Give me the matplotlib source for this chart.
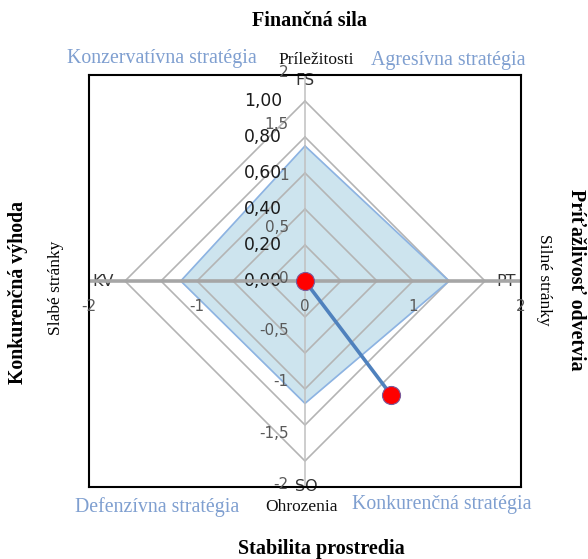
import numpy as np
import matplotlib
matplotlib.use("Agg")
import matplotlib.pyplot as plt

# radar part (SPACE factors), Excel-like radar 0..1
categories = ["FS", "PT", "SO", "KV"]
radar_values = [0.75, 0.80, 0.68, 0.69]
radar_ticks = [0.0, 0.2, 0.4, 0.6, 0.8, 1.0]
radar_ticklabels = ["0,00", "0,20", "0,40", "0,60", "0,80", "1,00"]

# scatter part (direction vector)
vec_x = [0, 0.80]
vec_y = [0, -1.11]
x_ticks = [-2, -1, 0, 1, 2]
x_ticklabels = ["-2", "-1", "0", "1", "2"]
y_ticks = [-2, -1.5, -1, -0.5, 0, 0.5, 1, 1.5, 2]
y_ticklabels = ["-2", "-1,5", "-1", "-0,5", "0", "0,5", "1", "1,5", "2"]

W, H = 588, 559
def fx(px):
  return px/W
def fy(py):
  return 1-py/H

serif = "Liberation Serif"
qcol = "#7f9fd0"

fig = plt.figure(figsize=(W/100, H/100), dpi=100)
box = [89/W, 1-487/H, 432/W, 412/H]

# radar axes, behind
rax = fig.add_axes(box)
rax.set_xlim(-216/180, 216/180)
rax.set_ylim(-206/180, 206/180)
rax.axis("off")
rax.set_zorder(0)

angles = np.deg2rad([90, 0, -90, 180])
ang_c = np.append(angles, angles[0])
vals = np.append(radar_values, radar_values[0])
rax.fill(vals*np.cos(ang_c), vals*np.sin(ang_c), color="#cde4ee", zorder=1)
rax.plot(vals*np.cos(ang_c), vals*np.sin(ang_c), color="#8db3e2", lw=1.2, zorder=3)
for r in radar_ticks[1:]:
  rax.plot(r*np.cos(ang_c), r*np.sin(ang_c), color="#b4b4b4", lw=1.2, zorder=2)
for r, lab in zip(radar_ticks, radar_ticklabels):
  rax.text(-0.128, r, lab, ha="right", va="center", fontsize=12.3,
           family="DejaVu Sans", color="#1a1a1a", zorder=5)
# category labels: FS top, PT right, SO bottom, KV left
lab_pos = [(0, 1.115), (1.115, 0), (0.01, -1.14), (-1.12, 0)]
for (px, py), lab in zip(lab_pos, categories):
  rax.text(px, py, lab, ha="center", va="center", fontsize=11.5,
           family="DejaVu Sans", color="#333333", zorder=5)

# scatter axes on top
ax = fig.add_axes(box)
ax.set_zorder(1)
ax.patch.set_visible(False)
ax.set_xlim(-2, 2)
ax.set_ylim(-2, 2)
ax.set_xticks([])
ax.set_yticks([])
for s in ax.spines.values():
  s.set_color("black")
  s.set_linewidth(1.5)
ax.axhline(0, color="#a6a6a6", lw=2.6, zorder=2)
ax.axvline(0, color="#c0c0c0", lw=1.1, zorder=2)
for v, lab in zip(x_ticks, x_ticklabels):
  ax.text(v, -0.245, lab, ha="center", va="center", fontsize=11,
          family="DejaVu Sans", color="#595959", clip_on=False)
for v, lab in zip(y_ticks, y_ticklabels):
  ax.text(-0.15, v+0.02, lab, ha="right", va="center", fontsize=11,
          family="DejaVu Sans", color="#595959", clip_on=False)
ax.plot(vec_x, vec_y, color="#4f81bd", lw=2.6, zorder=4,
        marker="o", markersize=13, markerfacecolor="#ff0000",
        markeredgecolor="#7a5a9a", markeredgewidth=0.8)

# surrounding texts
fig.text(fx(310), fy(21), "Finančná sila", ha="center", va="center",
         fontsize=14.5, family=serif, fontweight="bold")
fig.text(fx(321), fy(549), "Stabilita prostredia", ha="center", va="center",
         fontsize=14.5, family=serif, fontweight="bold")
fig.text(fx(18), fy(292), "Konkurenčná výhoda", ha="center", va="center",
         fontsize=14.3, family=serif, fontweight="bold", rotation=90)
fig.text(fx(576), fy(280), "Príťažlivosť odvetvia", ha="center", va="center",
         fontsize=14.3, family=serif, fontweight="bold", rotation=-90)
fig.text(fx(56), fy(288), "Slabé stránky", ha="center", va="center",
         fontsize=12.5, family=serif, rotation=90)
fig.text(fx(544), fy(280), "Silné stránky", ha="center", va="center",
         fontsize=12.5, family=serif, rotation=-90)

fig.text(fx(162), fy(59), "Konzervatívna stratégia", ha="center", va="center",
         fontsize=14.3, family=serif, color=qcol)
fig.text(fx(448), fy(61), "Agresívna stratégia", ha="center", va="center",
         fontsize=14.3, family=serif, color=qcol)
fig.text(fx(157), fy(507), "Defenzívna stratégia", ha="center", va="center",
         fontsize=14.3, family=serif, color=qcol)
fig.text(fx(442), fy(504), "Konkurenčná stratégia", ha="center", va="center",
         fontsize=14.3, family=serif, color=qcol)
fig.text(fx(316), fy(60), "Príležitosti", ha="center", va="center",
         fontsize=12.5, family=serif, color="#111111")
fig.text(fx(302), fy(507), "Ohrozenia", ha="center", va="center",
         fontsize=12.5, family=serif, color="#111111")

fig.savefig("out.png", dpi=100, facecolor="white")
